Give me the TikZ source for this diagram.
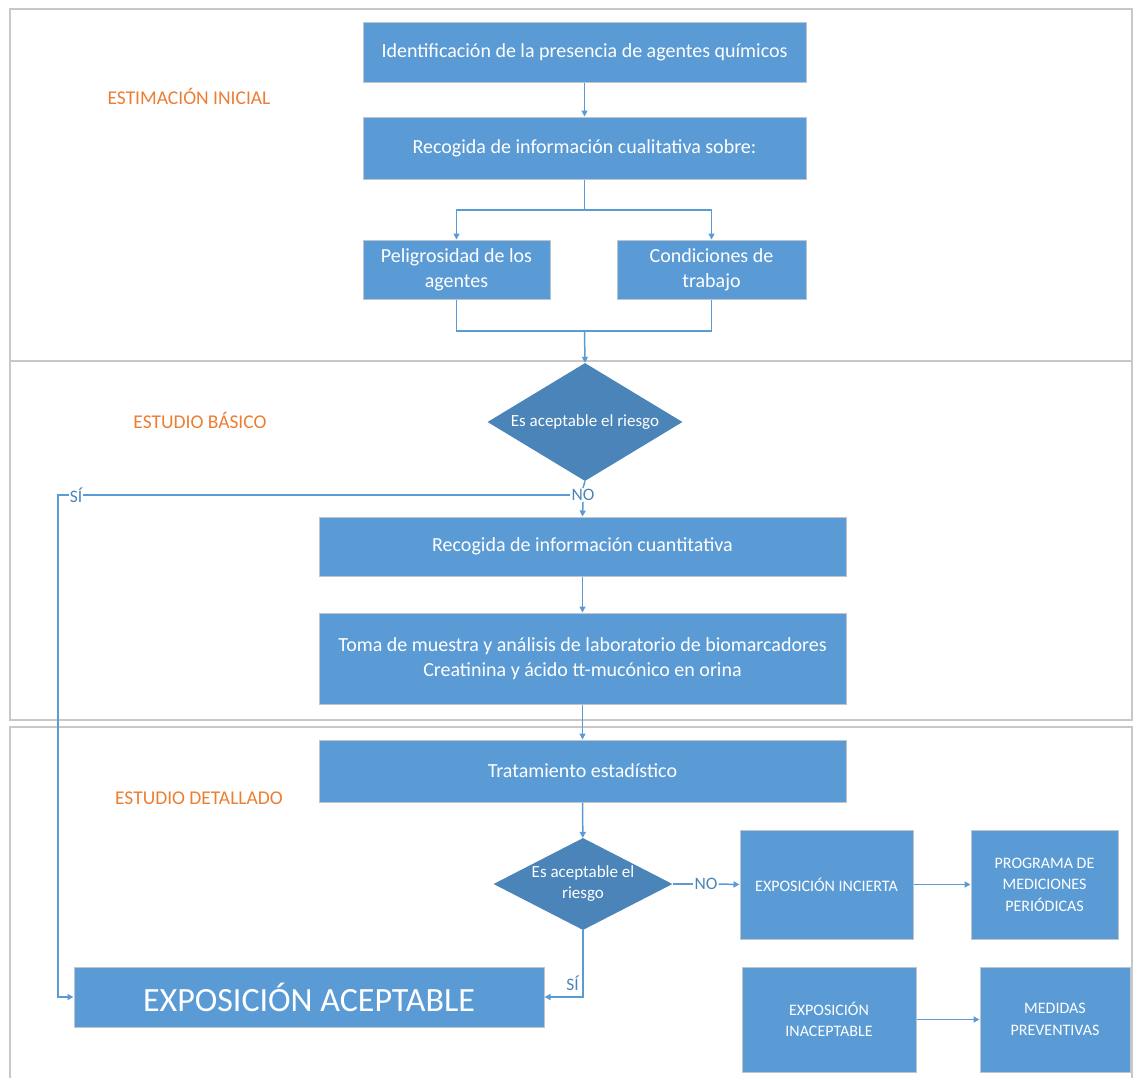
\documentclass[tikz,border=0pt]{standalone}
\usepackage{fontspec}
\setmainfont{Carlito}
\usetikzlibrary{arrows.meta,shapes.geometric}
\definecolor{boxblue}{HTML}{5B9BD5}
\definecolor{diablue}{HTML}{4A84B8}
\definecolor{lineblue}{HTML}{5B9BD5}
\definecolor{orng}{HTML}{ED7D31}
\definecolor{frm}{HTML}{C8C8C8}
\definecolor{boxedge}{HTML}{BDC6CF}
\begin{document}
\begin{tikzpicture}[x=1pt,y=-1pt,
  box/.style={rectangle, fill=boxblue, draw=boxedge, line width=1pt, text=white, align=center, inner sep=0pt, font=\fontsize{20}{25}\selectfont},
  capbox/.style={box, font=\fontsize{16}{21.5}\selectfont},
  dia/.style={diamond, fill=diablue, draw=none, inner sep=0pt},
  diatext/.style={text=white, align=center, inner sep=0pt, font=\fontsize{17}{21}\selectfont},
  sect/.style={text=orng, font=\fontsize{19.5}{22}\selectfont},
  lbl/.style={text=diablue, inner sep=1pt, font=\fontsize{17.5}{20}\selectfont},
  frame/.style={draw=frm, line width=1.6pt},
  ln/.style={draw=lineblue, line width=1.5pt},
  arr/.style={ln, -{Triangle[length=6pt,width=6pt]}}
]
\useasboundingbox (0,0) rectangle (1133,1077);
% section frames
\draw[frame] (10,9) rectangle (1132,361);
\draw[frame] (10,361) rectangle (1132,720);
\draw[frame] (10,1080) -- (10,727) -- (1132,727) -- (1132,1080);

% section titles
\node[sect] (s1) at (189,96) {ESTIMACIÓN INICIAL};
\node[sect] (s2) at (200,420) {ESTUDIO BÁSICO};
\node[sect] (s3) at (199,798) {ESTUDIO DETALLADO};

% nodes
\node[box, minimum width=443, minimum height=60] (n1) at (584.5,52) {Identificación de la presencia de agentes químicos};
\node[box, minimum width=443, minimum height=62] (n2) at (584.5,148) {Recogida de información cualitativa sobre:};
\node[box, minimum width=187, minimum height=59] (n3) at (456.5,269.5) {Peligrosidad de los\\agentes};
\node[box, minimum width=189, minimum height=59] (n4) at (711.5,269.5) {Condiciones de\\trabajo};
\node[dia, minimum width=195, minimum height=118] (d1) at (585,422) {};
\node[diatext] (d1t) at (d1.center) {Es aceptable el riesgo};
\node[box, minimum width=527, minimum height=59] (n5) at (582.5,546.5) {Recogida de información cuantitativa};
\node[box, minimum width=527, minimum height=91] (n6) at (582.5,658.5) {Toma de muestra y análisis de laboratorio de biomarcadores\\Creatinina y ácido tt-mucónico en orina};
\node[box, minimum width=527, minimum height=62] (n7) at (582.5,771) {Tratamiento estadístico};
\node[dia, minimum width=179, minimum height=92] (d2) at (583,884) {};
\node[diatext] (d2t) at (d2.center) {Es aceptable el\\riesgo};
\node[capbox, minimum width=173, minimum height=109] (n8) at (826.5,884.5) {EXPOSICIÓN INCIERTA};
\node[capbox, minimum width=147, minimum height=109] (n9) at (1044.5,884.5) {PROGRAMA DE\\MEDICIONES\\PERIÓDICAS};
\node[box, minimum width=470, minimum height=60, font=\fontsize{34}{38}\selectfont] (ea) at (309,997) {EXPOSICIÓN ACEPTABLE};
\node[capbox, minimum width=174, minimum height=105] (n10) at (829,1019.5) {EXPOSICIÓN\\INACEPTABLE};
\node[capbox, minimum width=150, minimum height=105] (n11) at (1055,1019.5) {MEDIDAS\\PREVENTIVAS};

% connectors, top section
\draw[arr] (n1) -- (n2);
\coordinate (b1) at (584.5,210);
\draw[ln] (n2.south) -- (b1);
\draw[arr] (b1) -| (n3.north);
\draw[arr] (b1) -| (n4.north);
\coordinate (m1) at (584.5,331);
\draw[ln] (n3.south) |- (m1) -| (n4.south);
\draw[arr] (m1) -- (d1.north);

% first decision
\node[lbl] (no1) at (583,495) {NO};
\node[lbl] (si1) at (76,495) {SÍ};
\coordinate (c1) at (58,495);
\draw[ln] (d1.south) -- (no1.north);
\draw[arr] (no1.south) -- (n5.north);
\draw[ln] (no1.west) -- (si1.east);
\draw[arr] (si1.west) -- (c1) |- (ea.west);

% middle chain
\draw[arr] (n5) -- (n6);
\draw[arr] (n6) -- (n7);
\draw[arr] (n7) -- (d2);

% second decision
\node[lbl] (no2) at (706,884) {NO};
\draw[ln] (d2.east) -- (no2.west);
\draw[arr] (no2.east) -- (n8.west);
\draw[arr] (n8) -- (n9);
\node[lbl, anchor=south east] (si2) at (580,992) {SÍ};
\draw[arr] (d2.south) |- (ea.east);
\draw[arr] (n10) -- (n11);
\end{tikzpicture}
\end{document}
